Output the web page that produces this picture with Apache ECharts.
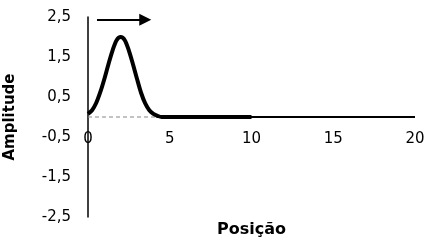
<!DOCTYPE html>
<html>
<head>
<meta charset="utf-8">
<script src="https://cdn.jsdelivr.net/npm/echarts@6/dist/echarts.min.js"></script>
<style>html,body{margin:0;padding:0;background:#fff;}#c{width:443px;height:241px;}</style>
</head>
<body>
<div id="c"></div>
<script>
// Pulse (thick)
const pulseX = [0, 0.25, 0.5, 0.75, 1.0, 1.25, 1.5, 1.75, 2.0, 2.25, 2.5, 2.75, 3.0, 3.25, 3.5, 3.75, 4.0, 4.25, 4.5, 10];
const pulseY = [0.08, 0.17, 0.35, 0.62, 0.95, 1.32, 1.66, 1.92, 2.0, 1.92, 1.66, 1.32, 0.95, 0.6, 0.34, 0.17, 0.08, 0.03, 0.0, 0.0];
// Dashed grey baseline
const baseX = [0, 4.2];
const baseY = [0, 0];
// Thin black line along the rest of the axis
const restX = [4.2, 20];
const restY = [0, 0];
// Arrow showing direction of travel
const arrowX = [0.55, 3.5];
const arrowY = [2.43, 2.43];
// Tick labels
const xTicks = [0, 5, 10, 15, 20];
const yTickValues = [-2.5, -1.5, -0.5, 0.5, 1.5, 2.5];
const yTickLabels = ['-2,5', '-1,5', '-0,5', '0,5', '1,5', '2,5'];

const zip = (a, b) => a.map((v, i) => [v, b[i]]);
const chart = echarts.init(document.getElementById('c'), null, {renderer: 'canvas'});
const font = 'DejaVu Sans';
chart.setOption({
  animation: false,
  grid: {left: 88, right: 28, top: 17, bottom: 24, containLabel: false, outerBoundsMode: 'none'},
  xAxis: {
    type: 'value', min: 0, max: 20, interval: 5, position: 'bottom', offset: -100,
    axisLine: {show: false, onZero: false},
    axisTick: {show: false},
    splitLine: {show: false},
    axisLabel: {margin: 15, color: '#000', fontFamily: font, fontSize: 15, hideOverlap: false,
      formatter: v => xTicks.includes(v) ? String(v) : ''},
    name: 'Posição', nameLocation: 'middle', nameGap: 105,
    nameTextStyle: {color: '#000', fontFamily: font, fontWeight: 'bold', fontSize: 16}
  },
  yAxis: {
    type: 'value', min: -2.5, max: 2.5, interval: 0.5,
    axisLine: {show: true, onZero: false, lineStyle: {color: '#000', width: 1.5}},
    axisTick: {show: false},
    splitLine: {show: false},
    axisLabel: {margin: 17, color: '#000', fontFamily: font, fontSize: 15, hideOverlap: false,
      formatter: v => { const i = yTickValues.findIndex(t => Math.abs(t - v) < 1e-9); return i >= 0 ? yTickLabels[i] : ''; }},
    name: 'Amplitude', nameLocation: 'middle', nameGap: 70, nameRotate: 90,
    nameTextStyle: {color: '#000', fontFamily: font, fontWeight: 'bold', fontSize: 15}
  },
  series: [
    {type: 'line', data: zip(baseX, baseY), symbol: 'none', z: 1,
     lineStyle: {color: '#888', width: 1.2, type: [4, 3]}},
    {type: 'line', data: zip(restX, restY), symbol: 'none', z: 2,
     lineStyle: {color: '#000', width: 2}},
    {type: 'line', data: zip(pulseX, pulseY), symbol: 'none', smooth: 0.3, z: 3,
     lineStyle: {color: '#000', width: 4},
     markLine: {silent: true, symbol: ['none', 'triangle'], symbolSize: [12, 12],
       label: {show: false},
       lineStyle: {color: '#000', width: 2, type: 'solid'},
       data: [[{coord: [arrowX[0], arrowY[0]]}, {coord: [arrowX[1], arrowY[1]]}]]}}
  ]
});
</script>
</body>
</html>
